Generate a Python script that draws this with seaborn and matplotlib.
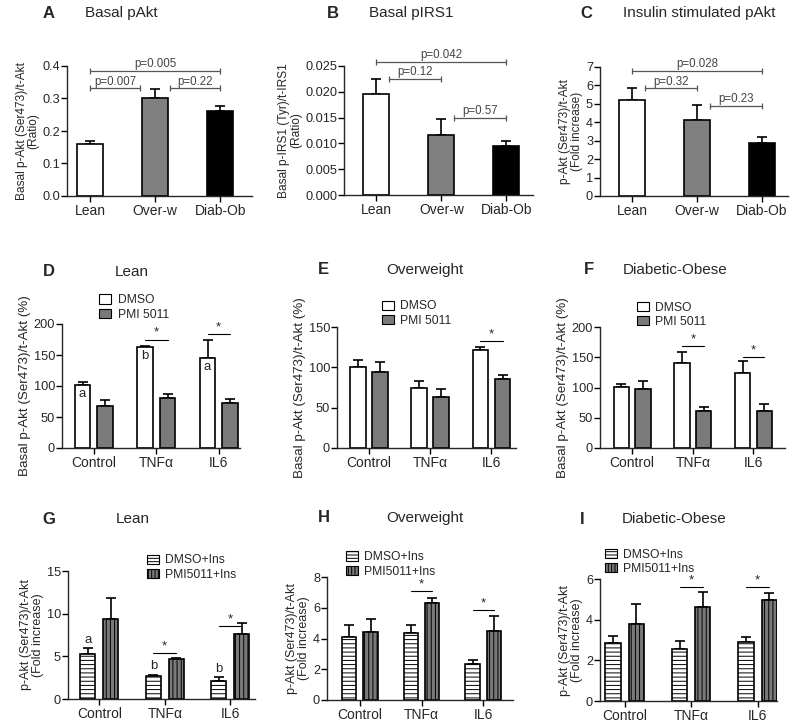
import numpy as np
import pandas as pd
import matplotlib
matplotlib.use('Agg')
import matplotlib.pyplot as plt
from matplotlib.patches import Patch
import seaborn as sns

# ==========================================
# DATA
# ==========================================
groups = ['Lean', 'Over-w', 'Diab-Ob']
group_colors = ['white', '#808080', 'black']

a_mean = [0.161, 0.303, 0.262]
a_sem = [0.009, 0.026, 0.015]
b_mean = [0.0195, 0.0116, 0.0095]
b_sem = [0.0029, 0.0032, 0.0010]
c_mean = [5.23, 4.12, 2.89]
c_sem = [0.65, 0.81, 0.32]

# brackets: (from bar, to bar, height, label, trim left, trim right)
a_pvals = [(0, 2, 0.386, 'p=0.005', 0, 0), (0, 1, 0.331, 'p=0.007', 0, 0.23),
           (1, 2, 0.331, 'p=0.22', 0.23, 0)]
b_pvals = [(0, 2, 0.0258, 'p=0.042', 0, 0), (0, 1, 0.0225, 'p=0.12', 0.2, 0),
           (1, 2, 0.0150, 'p=0.57', 0.2, 0)]
c_pvals = [(0, 2, 6.79, 'p=0.028', 0, 0), (0, 1, 5.85, 'p=0.32', 0.2, 0),
           (1, 2, 4.89, 'p=0.23', 0.2, 0)]

treatments = ['Control', 'TNFα', 'IL6']

d_dmso = [101.6, 163.0, 145.0]
d_dmso_sem = [5.5, 1.5, 30.0]
d_pmi = [67.0, 80.6, 72.0]
d_pmi_sem = [10.0, 6.5, 7.6]
d_letters = ['a', 'b', 'a']
d_stars = {1: 175, 2: 184}

e_dmso = [100.2, 74.4, 121.2]
e_dmso_sem = [9.5, 8.2, 4.5]
e_pmi = [93.7, 63.7, 85.0]
e_pmi_sem = [12.3, 9.0, 5.8]
e_stars = {2: 132.7}

f_dmso = [100.3, 139.7, 124.4]
f_dmso_sem = [4.7, 19.8, 18.6]
f_pmi = [98.0, 61.4, 61.4]
f_pmi_sem = [12.0, 7.1, 10.9]
f_stars = {1: 168.8, 2: 150.7}

g_dmso = [5.28, 2.64, 2.14]
g_dmso_sem = [0.66, 0.20, 0.39]
g_pmi = [9.40, 4.70, 7.62]
g_pmi_sem = [2.49, 0.08, 1.24]
g_letters = ['a', 'b', 'b']
g_stars = {1: 5.44, 2: 8.55}

h_dmso = [4.11, 4.37, 2.31]
h_dmso_sem = [0.80, 0.54, 0.28]
h_pmi = [4.43, 6.34, 4.52]
h_pmi_sem = [0.82, 0.32, 0.95]
h_stars = {1: 7.07, 2: 5.84}

i_dmso = [2.84, 2.54, 2.89]
i_dmso_sem = [0.37, 0.43, 0.24]
i_pmi = [3.79, 4.62, 4.98]
i_pmi_sem = [0.97, 0.72, 0.33]
i_stars = {1: 5.59, 2: 5.59}

# ==========================================
# STYLE
# ==========================================
sns.set_style('ticks')
plt.rcParams['font.family'] = ['Liberation Sans', 'DejaVu Sans']
plt.rcParams['hatch.linewidth'] = 0.7
plt.rcParams['axes.linewidth'] = 1.0

W, H = 800, 723
fig = plt.figure(figsize=(W / 100, H / 100), dpi=100)


def px_axes(x0, y0, x1, y1):
    return fig.add_axes([x0 / W, 1 - y1 / H, (x1 - x0) / W, (y1 - y0) / H])


def heading(x_letter, x_title, y, letter, title):
    fig.text(x_letter / W, 1 - y / H, letter, fontsize=12, weight='bold', va='center')
    fig.text(x_title / W, 1 - y / H, title, fontsize=11, va='center')


def style_axes(ax, ylim, step, fmt, ylabel, xlim, ylabel_size=8.8):
    ax.set_ylim(*ylim)
    ax.set_xlim(*xlim)
    ax.set_yticks(np.arange(ylim[0], ylim[1] + step / 2, step))
    ax.set_yticklabels([fmt.format(v) for v in ax.get_yticks()], fontsize=9.2)
    ax.tick_params(axis='x', labelsize=10, length=4, width=1, color='black', pad=2)
    ax.tick_params(axis='y', length=4, width=1, color='black', pad=1)
    ax.set_xlabel('')
    ax.set_ylabel(ylabel, fontsize=ylabel_size, labelpad=2, linespacing=1.0)
    sns.despine(ax=ax)


def add_err(ax, bars, mean, sem):
    xs = [b.get_x() + b.get_width() / 2 for b in bars]
    ax.errorbar(xs, mean, yerr=[np.zeros(len(sem)), sem], fmt='none', ecolor='black',
                elinewidth=1.2, capsize=3.5, capthick=1.2, zorder=0.5)
    return xs


def group_panel(ax, dmso, dmso_sem, pmi, pmi_sem, names, hatched, width, gap):
    df = pd.DataFrame({'treatment': treatments * 2,
                       'vehicle': [names[0]] * 3 + [names[1]] * 3,
                       'value': dmso + pmi})
    sns.barplot(data=df, x='treatment', y='value', hue='vehicle', hue_order=names,
                palette=['white', '#7a7a7a'], saturation=1, width=width, gap=gap,
                edgecolor='black', linewidth=1.2, errorbar=None, legend=False, ax=ax)
    if hatched:
        for b in ax.containers[0]:
            b.set_hatch('----')
        for b in ax.containers[1]:
            b.set_hatch('||||')
    x1 = add_err(ax, ax.containers[0], dmso, dmso_sem)
    x2 = add_err(ax, ax.containers[1], pmi, pmi_sem)
    return x1, x2


def add_legend(ax, names, hatched, anchor):
    handles = [Patch(facecolor='white', edgecolor='black', lw=0.8,
                     hatch='-----' if hatched else None, label=names[0]),
               Patch(facecolor='#7a7a7a', edgecolor='black', lw=0.8,
                     hatch='|||||' if hatched else None, label=names[1])]
    ax.legend(handles=handles, loc='upper left', bbox_to_anchor=anchor, frameon=False,
              fontsize=8.7, handlelength=1.0, handleheight=0.8, handletextpad=0.5,
              borderpad=0, borderaxespad=0, labelspacing=0.2)


def add_stars(ax, x1, x2, stars, ymax):
    for k, y in stars.items():
        ax.plot([x1[k], x2[k]], [y, y], color='black', lw=0.8, clip_on=False)
        ax.text((x1[k] + x2[k]) / 2, y + ymax * 0.005, '*', ha='center', va='bottom',
                fontsize=9.5, clip_on=False)


# ==========================================
# TOP ROW (A, B, C)
# ==========================================
top = [
    ((67, 66, 252, 196), (-0.36, 2.49), a_mean, a_sem, a_pvals, (0, 0.4), 0.1, '{:.1f}',
     'Basal p-Akt (Ser473)/t-Akt\n(Ratio)', (43, 85, 13, 'A', 'Basal pAkt')),
    ((344, 66, 533, 195), (-0.5, 2.41), b_mean, b_sem, b_pvals, (0, 0.025), 0.005, '{:.3f}',
     'Basal p-IRS1 (Tyr)/t-IRS1\n(Ratio)', (327, 369, 13, 'B', 'Basal pIRS1')),
    ((600, 67, 788, 196), (-0.5, 2.4), c_mean, c_sem, c_pvals, (0, 7), 1, '{:.0f}',
     'p-Akt (Ser473)/t-Akt\n(Fold increase)', (580, 623, 13, 'C', 'Insulin stimulated pAkt')),
]

for rect, xlim, mean, sem, pvals, ylim, step, fmt, ylabel, head in top:
    ax = px_axes(*rect)
    df = pd.DataFrame({'group': groups, 'value': mean})
    sns.barplot(data=df, x='group', y='value', hue='group', palette=group_colors,
                saturation=1, width=0.4, edgecolor='black', linewidth=1.2,
                errorbar=None, legend=False, ax=ax)
    bars = sorted(ax.patches, key=lambda p: p.get_x())
    xs = add_err(ax, bars, mean, sem)
    for i, j, y, label, tl, tr in pvals:
        xa, xb = xs[i] + tl, xs[j] - tr
        ax.plot([xa, xb], [y, y], color='#555555', lw=0.9, marker='|', ms=5,
                mew=0.9, clip_on=False)
        ax.text((xa + xb) / 2, y + ylim[1] * 0.004, label, ha='center', va='bottom',
                fontsize=8.3, color='#444444', clip_on=False)
    style_axes(ax, ylim, step, fmt, ylabel, xlim, 8.6)
    heading(*head)

# ==========================================
# MIDDLE ROW (D, E, F) - basal
# ==========================================
mid_names = ['DMSO', 'PMI 5011']
mid = [
    ((62, 324, 240, 448), (-0.51, 2.34), d_dmso, d_dmso_sem, d_pmi, d_pmi_sem, d_stars,
     (0, 200), (0.21, 1.24), (43, 115, 272, 'D', 'Lean')),
    ((337, 327, 516, 448), (-0.52, 2.40), e_dmso, e_dmso_sem, e_pmi, e_pmi_sem, e_stars,
     (0, 150), (0.25, 1.22), (318, 386, 270, 'E', 'Overweight')),
    ((600, 327, 785, 448), (-0.53, 2.52), f_dmso, f_dmso_sem, f_pmi, f_pmi_sem, f_stars,
     (0, 200), (0.20, 1.21), (584, 623, 270, 'F', 'Diabetic-Obese')),
]

for k, (rect, xlim, dm, dms, pm, pms, stars, ylim, anchor, head) in enumerate(mid):
    ax = px_axes(*rect)
    x1, x2 = group_panel(ax, dm, dms, pm, pms, mid_names, False, 0.72, 0.3)
    add_stars(ax, x1, x2, stars, ylim[1])
    if k == 0:
        for x, y, t in zip(x1, dm, d_letters):
            ax.text(x, y - 15, t, ha='center', va='center', fontsize=9.5)
    style_axes(ax, ylim, 50, '{:.0f}', 'Basal p-Akt (Ser473)/t-Akt (%)', xlim, 9.6)
    add_legend(ax, mid_names, False, anchor)
    heading(*head)

# ==========================================
# BOTTOM ROW (G, H, I) - insulin stimulated
# ==========================================
bot_names = ['DMSO+Ins', 'PMI5011+Ins']
bot = [
    ((68, 571, 255, 699), (-0.48, 2.38), g_dmso, g_dmso_sem, g_pmi, g_pmi_sem, g_stars,
     (0, 15), 5, (0.42, 1.13), (42, 116, 519, 'G', 'Lean')),
    ((327, 577, 513, 700), (-0.53, 2.48), h_dmso, h_dmso_sem, h_pmi, h_pmi_sem, h_stars,
     (0, 8), 2, (0.10, 1.21), (318, 386, 518, 'H', 'Overweight')),
    ((600, 579, 777, 701), (-0.37, 2.29), i_dmso, i_dmso_sem, i_pmi, i_pmi_sem, i_stars,
     (0, 6), 2, (0.03, 1.25), (580, 622, 519, 'I', 'Diabetic-Obese')),
]

for k, (rect, xlim, dm, dms, pm, pms, stars, ylim, step, anchor, head) in enumerate(bot):
    ax = px_axes(*rect)
    x1, x2 = group_panel(ax, dm, dms, pm, pms, bot_names, True, 0.70, 0.34)
    add_stars(ax, x1, x2, stars, ylim[1])
    if k == 0:
        for x, y, s, t in zip(x1, dm, g_dmso_sem, g_letters):
            ax.text(x, y + s + 1.0, t, ha='center', va='center', fontsize=9.5)
    style_axes(ax, ylim, step, '{:.0f}', 'p-Akt (Ser473)/t-Akt\n(Fold increase)', xlim, 9.0)
    add_legend(ax, bot_names, True, anchor)
    heading(*head)

fig.savefig('out.png', dpi=100, facecolor='white')
